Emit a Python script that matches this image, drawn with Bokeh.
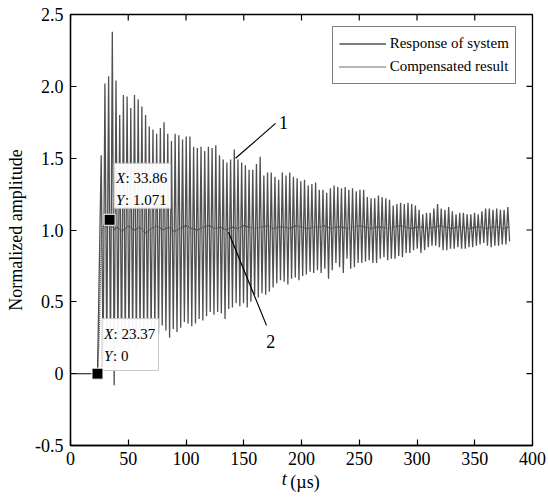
import numpy as np
from bokeh.plotting import figure
from bokeh.models import Range1d, LinearAxis, FixedTicker, Label, Legend, LegendItem
from bokeh.core.properties import value
from bokeh.embed import file_html
from bokeh.resources import INLINE

FONT = "Liberation Serif"

# ---------------- data ----------------
# response of system: zero until onset, then alternating peaks
ONSET_T = 23.37
PEAK_T0 = 26.6        # time of first upper peak (us)
HALF_PERIOD = 1.6     # us between an upper and the following lower peak

upper_peaks = [
    1.52, 2.02, 2.07, 2.38, 2.04, 1.80, 1.94, 1.93, 1.85, 1.94,
    1.91, 1.86, 1.80, 1.72, 1.70, 1.67, 1.71, 1.75, 1.67, 1.62,
    1.67, 1.66, 1.63, 1.65, 1.65, 1.58, 1.57, 1.58, 1.55, 1.58,
    1.57, 1.59, 1.52, 1.49, 1.47, 1.49, 1.56, 1.49, 1.47, 1.45,
    1.42, 1.42, 1.46, 1.51, 1.38, 1.40, 1.40, 1.37, 1.35, 1.40,
    1.38, 1.40, 1.37, 1.36, 1.34, 1.35, 1.31, 1.32, 1.33, 1.28,
    1.28, 1.26, 1.29, 1.31, 1.30, 1.29, 1.30, 1.28, 1.29, 1.27,
    1.28, 1.28, 1.23, 1.22, 1.22, 1.24, 1.23, 1.22, 1.21, 1.17,
    1.18, 1.19, 1.18, 1.19, 1.18, 1.17, 1.14, 1.11, 1.12, 1.12,
    1.15, 1.18, 1.15, 1.14, 1.16, 1.13, 1.11, 1.12, 1.12, 1.11,
    1.11, 1.12, 1.11, 1.13, 1.15, 1.15, 1.14, 1.15, 1.14, 1.14,
    1.16,
]
lower_peaks = [
    0.07, 0.15, 0.10, -0.08, 0.18, 0.12, 0.20, 0.16, 0.22, 0.18,
    0.24, 0.21, 0.27, 0.25, 0.30, 0.28, 0.335, 0.30, 0.25, 0.31,
    0.29, 0.32, 0.36, 0.35, 0.33, 0.35, 0.38, 0.37, 0.40, 0.43,
    0.41, 0.43, 0.42, 0.38, 0.45, 0.46, 0.49, 0.47, 0.49, 0.46,
    0.50, 0.55, 0.53, 0.56, 0.55, 0.57, 0.60, 0.63, 0.65, 0.64,
    0.62, 0.66, 0.67, 0.65, 0.68, 0.69, 0.71, 0.70, 0.72, 0.70,
    0.73, 0.66, 0.72, 0.77, 0.74, 0.70, 0.80, 0.73, 0.74, 0.77,
    0.77, 0.78, 0.79, 0.77, 0.77, 0.80, 0.81, 0.79, 0.80, 0.80,
    0.82, 0.81, 0.84, 0.84, 0.86, 0.87, 0.84, 0.86, 0.88, 0.89,
    0.89, 0.88, 0.86, 0.86, 0.87, 0.87, 0.88, 0.87, 0.87, 0.88,
    0.88, 0.89, 0.90, 0.91, 0.89, 0.88, 0.89, 0.89, 0.90, 0.90,
    0.92,
]

# compensated result
comp_t = [0.0, 23.37, 25.0, 25.8, 27.0, 29.0, 31.0, 33.86, 36.0, 38.0] + list(range(40, 385, 5))
comp_y = [
    0.0, 0.0, 0.30, 0.65, 0.98, 1.04, 1.02, 1.071, 1.03, 1.00,
    1.02, 0.99, 1.03, 1.00, 1.02, 0.98, 1.01, 1.03, 1.00, 1.02,
    0.99, 1.01, 1.03, 1.01, 1.00, 1.02, 1.03, 1.01, 1.02, 1.00,
    1.02, 1.01, 1.03, 1.02, 1.01, 1.02, 1.03, 1.01, 1.02, 1.02,
    1.01, 1.03, 1.02, 1.01, 1.02, 1.02, 1.03, 1.01, 1.02, 1.02,
    1.01, 1.02, 1.03, 1.02, 1.01, 1.02, 1.02, 1.01, 1.02, 1.03,
    1.02, 1.01, 1.02, 1.02, 1.01, 1.02, 1.03, 1.02, 1.01, 1.02,
    1.02, 1.01, 1.02, 1.02, 1.01, 1.02, 1.02, 1.01, 1.02,
]

# data tips
tip_x = [33.86, 23.37]
tip_y = [1.071, 0.0]
tip_xtxt = ["33.86", "23.37"]
tip_ytxt = ["1.071", "0"]

x_ticks = [0, 50, 100, 150, 200, 250, 300, 350, 400]
y_ticks = [-0.5, 0, 0.5, 1.0, 1.5, 2.0, 2.5]
y_tick_labels = ["-0.5", "0", "0.5", "1.0", "1.5", "2.0", "2.5"]

# ---------------- build series ----------------
resp_t = [0.0, ONSET_T]
resp_y = [0.0, 0.0]
for k, (u, l) in enumerate(zip(upper_peaks, lower_peaks)):
    tu = PEAK_T0 + 2 * HALF_PERIOD * k
    resp_t += [tu, tu + HALF_PERIOD]
    resp_y += [u, l]

# ---------------- figure ----------------
W, H = 548, 499
ML, MR, MT, MB = 70, 16, 14, 54
X0, X1, Y0, Y1 = 0, 400, -0.5, 2.5
p = figure(width=W, height=H, x_range=Range1d(X0, X1), y_range=Range1d(Y0, Y1),
           output_backend="svg", toolbar_location=None,
           min_border_left=ML, min_border_right=MR, min_border_top=MT, min_border_bottom=MB)
p.xgrid.visible = False
p.ygrid.visible = False
p.outline_line_color = "black"
p.outline_line_width = 1.3
p.background_fill_color = "white"
p.border_fill_color = "white"

FW = W - ML - MR
FH = H - MT - MB
sx = FW / (X1 - X0)
sy = FH / (Y1 - Y0)
TICK = 6


def style_axis(ax, ticks):
    ax.ticker = FixedTicker(ticks=ticks)
    ax.major_tick_in = TICK
    ax.major_tick_out = 0
    ax.minor_tick_in = 0
    ax.minor_tick_out = 0
    ax.axis_line_color = "black"
    ax.axis_line_width = 1.3
    ax.major_tick_line_color = "black"
    ax.major_tick_line_width = 1.2
    ax.major_label_text_font = FONT
    ax.major_label_text_color = "black"
    ax.major_label_text_font_size = "18px"
    ax.major_label_standoff = 7


xa = p.xaxis[0]
style_axis(xa, x_ticks)
xa.major_label_standoff = 6
ya = p.yaxis[0]
style_axis(ya, y_ticks)
ya.major_label_overrides = {float(t): s for t, s in zip(y_ticks, y_tick_labels)}
ya.axis_label = "Normalized amplitude"
ya.axis_label_text_font = FONT
ya.axis_label_text_font_style = "normal"
ya.axis_label_text_font_size = "18px"
ya.axis_label_text_color = "black"
ya.axis_label_standoff = 6

# x-axis title "t (µs)" with italic t, as two label-only axes sharing one row
T_POS, MU_POS = 185, 203


def title_axis(pos, text, style, standoff):
    ax = LinearAxis(ticker=FixedTicker(ticks=[pos]), major_label_overrides={pos: text})
    ax.axis_line_color = None
    ax.major_tick_line_color = None
    ax.minor_tick_line_color = None
    ax.major_tick_in = 0
    ax.major_tick_out = 0
    ax.major_label_text_font = FONT
    ax.major_label_text_font_size = "18px"
    ax.major_label_text_font_style = style
    ax.major_label_text_color = "black"
    ax.major_label_standoff = standoff
    p.add_layout(ax, "below")
    return ax


title_axis(T_POS, "t", "italic", 1)
title_axis(MU_POS, "(\u00b5s)", "normal", -20)

# mirrored inward ticks on top and right edges
p.segment(x_ticks, [Y1] * len(x_ticks), x_ticks, [Y1 - TICK / sy] * len(x_ticks),
          line_color="black", line_width=1.2)
p.segment([X1] * len(y_ticks), y_ticks, [X1 - TICK / sx] * len(y_ticks), y_ticks,
          line_color="black", line_width=1.2)

# series
r_resp = p.line(resp_t, resp_y, line_color="#505050", line_width=1.3)
r_comp = p.line(comp_t, comp_y, line_color="#404040", line_width=1.3, line_dash="1 1")

# leader lines and numbers
ann_x0 = [142.9, 136.8]
ann_y0 = [1.499, 0.984]
ann_x1 = [177.5, 169.7]
ann_y1 = [1.742, 0.336]
p.segment(ann_x0, ann_y0, ann_x1, ann_y1, line_color="black", line_width=1.2)
p.add_layout(Label(x=184.4, y=1.75, text="1", text_font=FONT, text_font_size="18px",
                   text_align="center", text_baseline="middle", text_color="black"))
p.add_layout(Label(x=173.4, y=0.225, text="2", text_font=FONT, text_font_size="18px",
                   text_align="center", text_baseline="middle", text_color="black"))

# data tips
box_top = [-56.5, -55.0]
box_bot = [-11.5, -3.2]
p.quad(left=[x + 4.5 / sx for x in tip_x], right=[x + 61 / sx for x in tip_x],
       top=[y - bt / sy for y, bt in zip(tip_y, box_top)],
       bottom=[y - bb / sy for y, bb in zip(tip_y, box_bot)],
       fill_color="white", fill_alpha=0.95, line_color="#c8c8c8", line_width=1)
p.scatter(tip_x, tip_y, marker="square", size=11, fill_color="black", line_color="white", line_width=1)

for i in range(2):
    x, y = tip_x[i], tip_y[i]
    l1 = y - (box_top[i] + 15) / sy
    l2 = y - (box_top[i] + 37) / sy
    p.text([x], [l1], text=["X"], x_offset=6.5, text_font=value(FONT), text_font_style="italic",
           text_font_size="15px", text_baseline="middle", text_align="left", text_color="black")
    p.text([x], [l1], text=[": " + tip_xtxt[i]], x_offset=16, text_font=value(FONT),
           text_font_size="15px", text_baseline="middle", text_align="left", text_color="black")
    p.text([x], [l2], text=["Y"], x_offset=6.5, text_font=value(FONT), text_font_style="italic",
           text_font_size="15px", text_baseline="middle", text_align="left", text_color="black")
    p.text([x], [l2], text=[": " + tip_ytxt[i]], x_offset=15.5, text_font=value(FONT),
           text_font_size="15px", text_baseline="middle", text_align="left", text_color="black")

# legend
LEG_H = 57
legend = Legend(items=[LegendItem(label="Response of system", renderers=[r_resp]),
                       LegendItem(label="Compensated result", renderers=[r_comp])],
                location=(261.7, FH - 12.7 - LEG_H))
legend.border_line_color = "black"
legend.border_line_width = 1
legend.background_fill_color = "white"
legend.background_fill_alpha = 1
legend.label_text_font = FONT
legend.label_text_font_size = "15px"
legend.label_text_color = "black"
legend.glyph_width = 47
legend.glyph_height = 21
legend.label_height = 21
legend.label_standoff = 4
legend.padding = 6
legend.spacing = 2
legend.margin = 0
p.add_layout(legend)

open("out.html", "w").write(file_html(p, INLINE))
